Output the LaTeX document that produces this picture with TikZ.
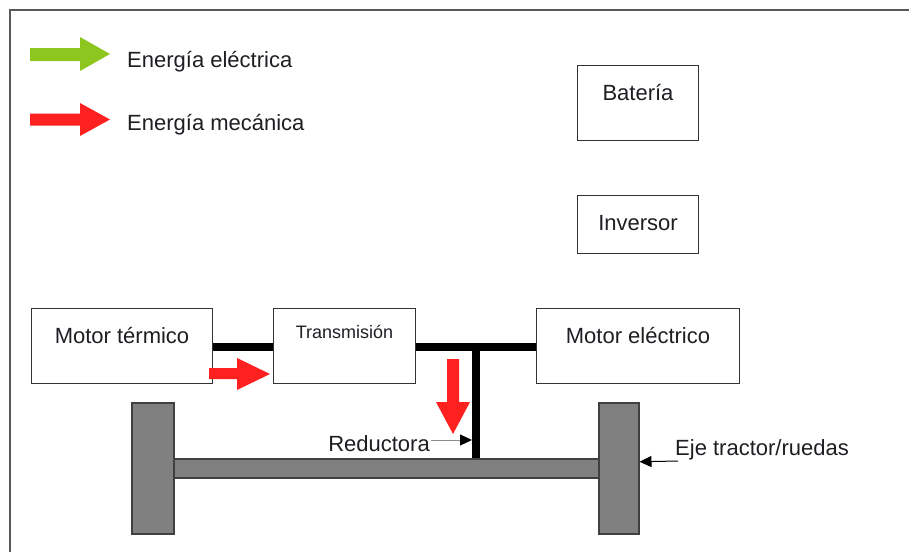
\documentclass[tikz,border=0pt]{standalone}
\usepackage{fontspec}
\setmainfont{Liberation Sans}
\usetikzlibrary{arrows.meta}
\definecolor{elec}{RGB}{140,198,30}
\definecolor{mech}{RGB}{255,32,32}
\definecolor{txt}{RGB}{30,30,35}
\definecolor{wheelgray}{RGB}{128,128,128}
\begin{document}
\begin{tikzpicture}[x=1pt,y=-1pt,
  every node/.style={text=txt, inner sep=0pt},
  big/.style={font=\fontsize{22pt}{26pt}\selectfont},
  box/.style={draw=black!80, line width=1pt, fill=white, anchor=north west},
  inlabel/.style={label={[big, anchor=base, yshift=-35pt]north:#1}},
  shaft/.style={line width=8pt, black},
  metal/.style={draw=black!75, line width=1.5pt, fill=wheelgray, anchor=north west},
  pointer/.style={line width=1pt, -{Triangle[length=12pt,width=11pt,color=black]}},
  frame/.style={line width=1.3pt, draw=black!65}
]
\useasboundingbox (0,0) rectangle (909,552);
\draw[frame] (10,552) -- (10,10) -- (909,10);

% legend
\fill[elec] (30,48) -- (80,48) -- (80,37) -- (110,54) -- (80,71) -- (80,61) -- (30,61) -- cycle;
\node[big, anchor=base west] (leg1) at (127,67) {Energía eléctrica};
\fill[mech] (30,113.5) -- (80,113.5) -- (80,103) -- (110,119.5) -- (80,136) -- (80,125.5) -- (30,125.5) -- cycle;
\node[big, anchor=base west] (leg2) at (127,130) {Energía mecánica};

% upper boxes
\node[box, minimum width=121pt, minimum height=75pt, inlabel={Batería}] (bat) at (577,65) {};
\node[box, minimum width=121pt, minimum height=58pt, inlabel={Inversor}] (inv) at (577,195) {};

% drivetrain boxes
\node[box, minimum width=181pt, minimum height=75pt, inlabel={Motor térmico}] (mt) at (31,308) {};
\node[box, minimum width=142pt, minimum height=75pt,
  label={[font=\fontsize{18pt}{22pt}\selectfont, anchor=base, yshift=-30pt]north:Transmisión}] (tr) at (273,308) {};
\node[box, minimum width=203pt, minimum height=75pt, inlabel={Motor eléctrico}] (me) at (536,308) {};

% shafts
\coordinate (j) at (476,347);
\coordinate (mtE) at (mt.east |- j);
\coordinate (trW) at (tr.west |- j);
\coordinate (trE) at (tr.east |- j);
\coordinate (meW) at (me.west |- j);
\draw[shaft] (mtE) -- (trW);
\draw[shaft] (trE) -- (meW);

% axle and wheels
\node[metal, minimum width=426pt, minimum height=19pt] (axle) at (172,458) {};
\draw[shaft] ([yshift=4pt]j) -- (j |- axle.north);
\node[metal, minimum width=42pt, minimum height=131pt] (lw) at (131,402) {};
\node[metal, minimum width=40pt, minimum height=131pt] (rw) at (598,402) {};

% mechanical energy arrows
\fill[mech] (209,368) -- (237,368) -- (237,358) -- (270,374) -- (237,390) -- (237,379) -- (209,379) -- cycle;
\fill[mech] (447,359) -- (459,359) -- (459,402) -- (470,402) -- (453,434) -- (436,402) -- (447,402) -- cycle;

% labels
\node[big, anchor=base east] (red) at (430,451) {Reductora};
\coordinate (rtip) at (472,440);
\draw[pointer, draw=black!45] ([shift={(1,-11)}]red.base east) -- (rtip);
\node[big, anchor=base west] (eje) at (675,455) {Eje tractor/ruedas};
\draw[pointer, draw=black] ([shift={(3,6)}]eje.base west) -- ([yshift=6.5pt]rw.east);
\end{tikzpicture}
\end{document}
